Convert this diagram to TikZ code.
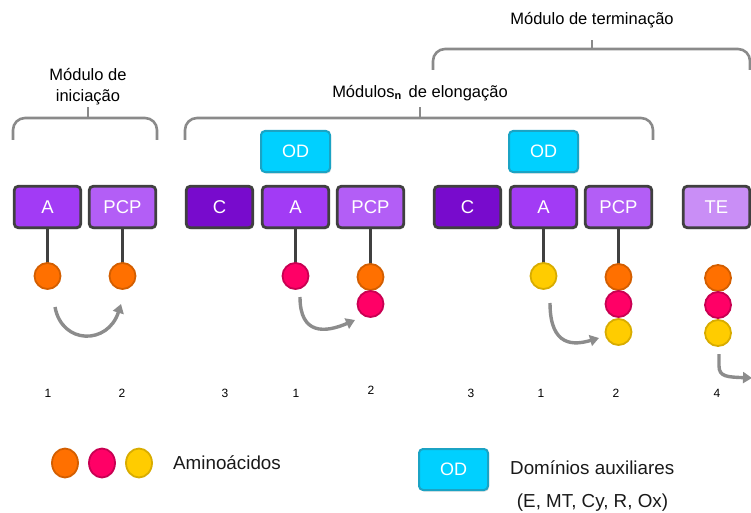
\documentclass[tikz,border=0pt]{standalone}
\usepackage{fontspec}
\setmainfont{Liberation Sans}
\usetikzlibrary{shadows,arrows.meta,shapes.geometric}
\definecolor{bordgray}{HTML}{404040}
\definecolor{colA}{HTML}{A23BF5}
\definecolor{colPCP}{HTML}{B35EF6}
\definecolor{colC}{HTML}{780BCD}
\definecolor{colTE}{HTML}{C98EF6}
\definecolor{colOD}{HTML}{00D0FF}
\definecolor{bordOD}{HTML}{1BA3C4}
\definecolor{orgF}{HTML}{FF7000}
\definecolor{orgB}{HTML}{D35E00}
\definecolor{pinkF}{HTML}{FF0066}
\definecolor{pinkB}{HTML}{C80052}
\definecolor{yelF}{HTML}{FFCC00}
\definecolor{yelB}{HTML}{D8AC00}
\definecolor{arrgray}{HTML}{8C8C8C}
\definecolor{brkgray}{HTML}{8A8A8A}
\begin{document}
\begin{tikzpicture}[x=1pt,y=-1pt,
  dom/.style={draw=bordgray, line width=2.8pt, rounded corners=4pt,
    minimum width=66.5pt, minimum height=41.5pt, inner sep=0pt, text=white,
    font=\fontsize{18.5}{20}\selectfont,
    drop shadow={opacity=0.3, shadow xshift=1pt, shadow yshift=-1.5pt}},
  odbox/.style={draw=bordOD, line width=2pt, rounded corners=4pt, fill=colOD,
    minimum width=69pt, minimum height=41pt, inner sep=0pt, text=white,
    font=\fontsize{18}{20}\selectfont,
    drop shadow={opacity=0.3, shadow xshift=1pt, shadow yshift=-1.5pt}},
  aa/.style={circle, line width=1.8pt, minimum size=26pt, inner sep=0pt},
  orange/.style={aa, fill=orgF, draw=orgB},
  pink/.style={aa, fill=pinkF, draw=pinkB},
  yellow/.style={aa, fill=yelF, draw=yelB},
  legaa/.style={ellipse, line width=1.8pt, minimum width=26pt, minimum height=29pt, inner sep=0pt},
  stem/.style={draw=bordgray, line width=2.4pt},
  arr/.style={draw=arrgray, line width=3.4pt, -{Triangle[length=9pt,width=11pt]}},
  brk/.style={draw=brkgray, line width=2.6pt, rounded corners=12pt},
  tick/.style={draw=brkgray, line width=2.6pt},
  title/.style={font=\fontsize{16.5}{21}\selectfont, text=black, inner sep=0pt, align=center},
  num/.style={font=\fontsize{12}{14}\selectfont, text=black, inner sep=0pt},
  legtxt/.style={font=\fontsize{18.8}{22}\selectfont, text=black!90, inner sep=0pt}
]
\useasboundingbox (0,0) rectangle (751,513);

% brackets
\draw[brk] (13,140) -- (13,118) -- (157,118) -- (157,140);
\draw[brk] (185,140) -- (185,118) -- (653,118) -- (653,140);
\draw[brk] (433,70) -- (433,49) -- (750,49) -- (750,70);
\coordinate (ti1) at (88,118); \coordinate (tt1) at (88,107);
\coordinate (ti2) at (420,118); \coordinate (tt2) at (420,107);
\coordinate (ti3) at (592,49); \coordinate (tt3) at (592,40);
\draw[tick] (ti1) -- (tt1);
\draw[tick] (ti2) -- (tt2);
\draw[tick] (ti3) -- (tt3);

\node[title] (tini) at (88,86.5) {Módulo de\\iniciação};
\node[title] (telo) at (420,93) {Módulos\raisebox{-0.25ex}{\fontsize{11}{12}\selectfont\bfseries n}\, de elongação};
\node[title] (tter) at (592,20) {Módulo de terminação};

% OD boxes
\node[odbox] (od1) at (295.5,151.5) {OD};
\node[odbox] (od2) at (543.5,151.5) {OD};

% domain boxes
\node[dom, fill=colA]   (a1)  at (47.5,207) {A};
\node[dom, fill=colPCP] (p1)  at (122.5,207) {PCP};
\node[dom, fill=colC]   (c2)  at (219.5,207) {C};
\node[dom, fill=colA]   (a2)  at (295.5,207) {A};
\node[dom, fill=colPCP] (p2)  at (370.5,207) {PCP};
\node[dom, fill=colC]   (c3)  at (467.5,207) {C};
\node[dom, fill=colA]   (a3)  at (543.5,207) {A};
\node[dom, fill=colPCP] (p3)  at (618.5,207) {PCP};
\node[dom, fill=colTE]  (te)  at (716.5,207) {TE};

% amino acids (positions)
\coordinate (k11) at (47.5,276);
\coordinate (k12) at (122.5,276);
\coordinate (k21) at (295.5,276);
\coordinate (k22a) at (370.5,277);
\coordinate (k22b) at (370.5,304);
\coordinate (k31) at (543.5,276);
\coordinate (k32a) at (618.5,277);
\coordinate (k32b) at (618.5,304);
\coordinate (k32c) at (618.5,332);
\coordinate (k4a) at (718,278);
\coordinate (k4b) at (718,305);
\coordinate (k4c) at (718,333);

% stems
\draw[stem] (a1.south) -- (k11);
\draw[stem] (p1.south) -- (k12);
\draw[stem] (a2.south) -- (k21);
\draw[stem] (p2.south) -- (k22a);
\draw[stem] (a3.south) -- (k31);
\draw[stem] (p3.south) -- (k32a);

\node[orange] (c11) at (k11) {};
\node[orange] (c12) at (k12) {};
\node[pink] (c21) at (k21) {};
\node[orange] (c22a) at (k22a) {};
\node[pink] (c22b) at (k22b) {};
\node[yellow] (c31) at (k31) {};
\node[orange] (c32a) at (k32a) {};
\node[pink] (c32b) at (k32b) {};
\node[yellow] (c32c) at (k32c) {};
\node[orange] (c4a) at (k4a) {};
\node[pink] (c4b) at (k4b) {};
\node[yellow] (c4c) at (k4c) {};

% transfer arrows
\coordinate (s1) at (55,307); \coordinate (e1) at (121,304);
\coordinate (s2) at (300,297); \coordinate (e2) at (355,320);
\coordinate (s3) at (550,303); \coordinate (e3) at (599,338);
\coordinate (s4) at (719,354); \coordinate (m4) at (719,366); \coordinate (e4) at (752,378);
\draw[arr] (s1) .. controls (62,345) and (108,345) .. (e1);
\draw[arr] (s2) .. controls (300,335) and (325,333) .. (e2);
\draw[arr] (s3) .. controls (550,348) and (575,345) .. (e3);
\draw[arr] (s4) -- (m4) .. controls (719,377) and (728,377) .. (e4);

% numbers
\node[num] (n1) at (48,393) {1};
\node[num] (n2) at (122,393) {2};
\node[num] (n3) at (225,393) {3};
\node[num] (n4) at (296,393) {1};
\node[num] (n5) at (371,390) {2};
\node[num] (n6) at (471,393) {3};
\node[num] (n7) at (541,393) {1};
\node[num] (n8) at (616,393) {2};
\node[num] (n9) at (717,393) {4};

% legend
\node[legaa, fill=orgF, draw=orgB] (l1) at (65,463) {};
\node[legaa, fill=pinkF, draw=pinkB] (l2) at (102,463) {};
\node[legaa, fill=yelF, draw=yelB] (l3) at (139,463) {};
\node[legtxt, anchor=west] (lt1) at (173,463) {Aminoácidos};
\node[odbox] (lod) at (453.5,469.5) {OD};
\node[legtxt, anchor=west] (lt2) at (510,468) {Domínios auxiliares};
\node[legtxt] (lt3) at (592.5,503) {(E, MT, Cy, R, Ox)};
\end{tikzpicture}
\end{document}
